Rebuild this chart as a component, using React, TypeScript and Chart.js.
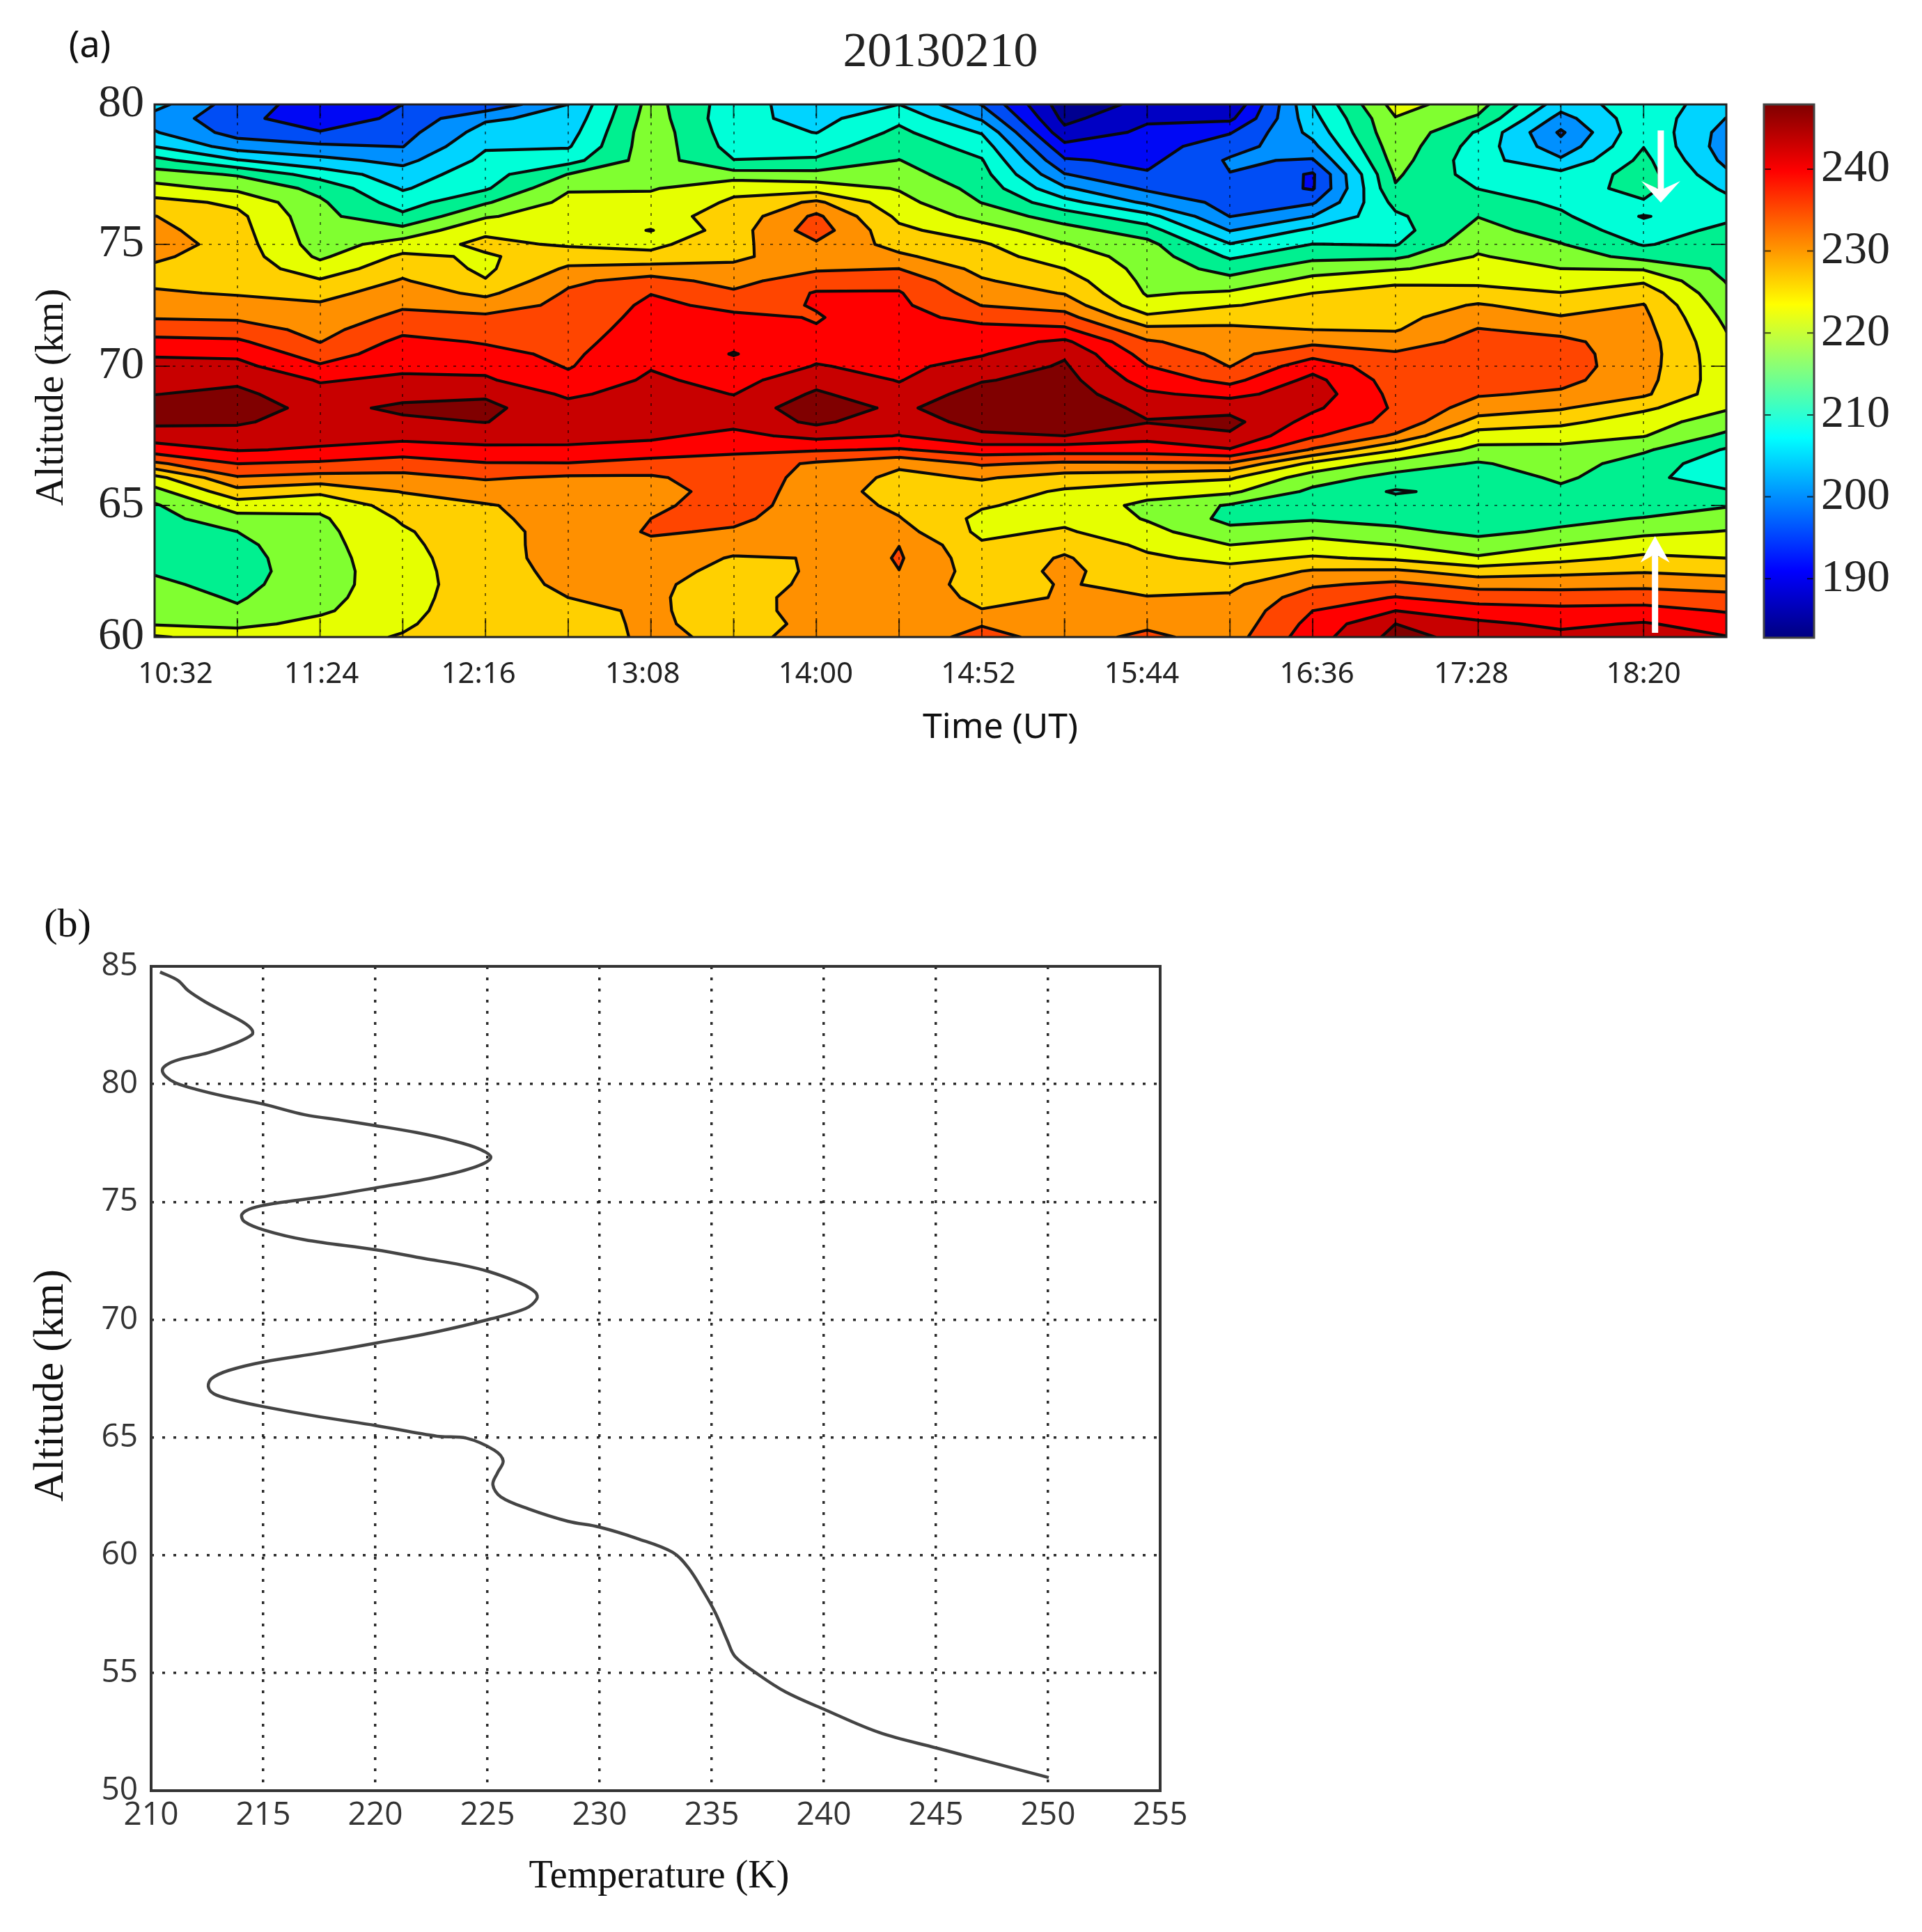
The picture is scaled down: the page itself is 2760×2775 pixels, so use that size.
import React, { useEffect, useRef } from "react";
import { Chart, registerables, LinearScale } from "chart.js";

// ---------- Panel (a) data ----------
const times = [632, 658, 684, 710, 736, 762, 788, 814, 840, 866, 892, 918, 944, 970, 996, 1022, 1048, 1074, 1100, 1126];
const timeLabels = ["10:32", "", "11:24", "", "12:16", "", "13:08", "", "14:00", "", "14:52", "", "15:44", "", "16:36", "", "17:28", "", "18:20", ""];
const altitudes = [80, 79.5, 79, 78.5, 78, 77.5, 77, 76.5, 76, 75.5, 75, 74.5, 74, 73.5, 73, 72.5, 72, 71.5, 71, 70.5, 70, 69.5, 69, 68.5, 68, 67.5, 67, 66.5, 66, 65.5, 65, 64.5, 64, 63.5, 63, 62.5, 62, 61.5, 61, 60.5, 60];
const levels = [186.9, 190.9, 195, 199.1, 203.1, 207.2, 211.3, 215.4, 219.4, 223.5, 227.6, 231.6, 235.7, 239.8, 243.8];
const bandColors = ["#000090", "#0000c4", "#0008f5", "#004df5", "#0090ff", "#00d4ff", "#00ffd8", "#00f090", "#80ff30", "#e6ff00", "#ffd000", "#ff9000", "#ff4500", "#ff0000", "#c80000", "#800000"];

const T1032 = [204.5,201.5,203.4,207.1,212.6,217.2,220.8,224.9,227.7,228.8, 230,228.2,227,226.9,228,229.6,231.3,234,236.8,239.4, 241,242.3,243.7,245.7,244.6,241.9,237.7,230.8,222.2,218, 214.9,213.9,212.7,213,214.1,215.1,216.1,217.1,218,219,224];
const T1058 = [197,196.5,197.5,201.3,207.5,215,218.5,222.7,224.5,225, 225.5,225.8,226,226.5,227.3,228.9,231,233.6,236.4,239, 241,243,244.8,245.8,244.3,242.2,240.1,235.7,231.2,226.2, 221.4,218,215.4,214.5,214,213.8,214.2,215,215.9,218.4,221.5];
const T1124 = [193,192,195.3,199.9,204.3,209.5,214.3,216,216.5,217, 217.5,218.7,221.2,223.9,226.3,228.1,229.3,230.3,231.5,233.7, 236.2,239.5,241,242.5,242,241.3,239.3,235,230.2,224.3, 220.5,218.8,218.3,218,217.8,217.7,217.9,218.2,218.8,220.5,222];
const T1150 = [195,196.2,197.6,199,201.9,205,206.8,209.4,212.2,216.7, 221.2,224.3,226.1,228,229.6,231.1,232.6,234.7,236.8,238, 239,240.5,242.5,244.6,243,241,237.9,233.6,230.5,227.8, 225.3,224,223,222.5,222,221.7,221.5,221.8,222.2,222.9,223.8];
const T1216 = [196,202.5,204.8,206.8,208.2,209.6,210.8,215,219,222.7, 224.5,223,222.8,223.7,226.7,229.6,232.4,233.7,235.4,236.8, 238.8,240.3,243.3,244.7,243.9,241.3,239,235.4,232,229.5, 227.3,226.9,226.5,226.3,226.2,226.1,226.1,226.2,226.3,226.3,226.4];
const T1242 = [203.1,204.3,205.5,206.8,209.8,215.5,219,220.5,221.5,222.5, 223,225.7,228.2,230.9,232.1,232.6,233.2,233.7,234.3,234.9, 235.4,236.7,239.1,241.2,241.5,241.2,239,235.5,231,230.5, 229.2,229,228.8,229,229,228.6,228.2,227.6,226.9,226.7,226.5];
const T1308 = [217,217.5,218,218,217.5,217.5,219,221,222,219.2, 222.5,224.6,229.4,233,235.6,236.5,237,237.6,238.2,238.9, 239.5,240.5,241.5,242,241.5,240.5,238.3,234,231.1,230, 231,231.6,232,230.8,229.8,229,228.3,228,228,228,228];
const T1334 = [209,208.5,209,209.8,211.4,217,222.7,224,225,225.8, 226.5,227,228.3,230.3,232.2,234.8,236.4,236.6,236.8,235.5, 237,238.4,239.7,241.5,241,238.7,236.5,234,233.5,233.3, 233,232.3,231.2,229,227.3,226.5,226,226.3,226.4,226.7,227.2];
const T1400 = [205,205.8,207.1,209.6,211.8,216.7,221.7,228.4,232.4,233.6, 231,229.4,231,234,236,235.85,235.55,235.85,238,239, 240,242.4,244.4,246,244.6,241,236.1,231,230.5,230.2, 230,229.7,229.2,228.4,227.7,227.9,228.3,228.8,228.7,228.1,228.05];
const T1426 = [207.2,210.4,212.2,213.9,215.5,216.9,219.1,220.8,222.6,224.4, 226.2,228.3,231.6,234.4,236,236.5,237,237.4,237.9,238.4, 238.9,239.6,241,243,241.2,239.7,235.3,228.4,226.5,225.5, 226.8,227.8,229.2,231.55,232,231.55,229.6,229.3,229.2,229.2,229.2];
const T1452 = [198.9,202.5,206.9,209.6,211.6,212.8,214,215.3,218,221.2, 224,225.1,226.5,228,229.6,231.5,234.4,236.9,238.1,239.5, 241.3,243.5,245.6,246.5,245.5,243.1,237.8,232.1,228,225.8, 223.9,222.5,222.6,224,225,225.7,226.3,227,227.7,231.3,233];
const T1518 = [184.5,185.8,188.1,192,195.5,199.3,203.7,208.7,213.4,217, 219.6,221.5,223.5,225.5,227.4,230,233.1,236.5,240.6,243.3, 244.3,245.2,246,246.4,245.6,243.8,237.5,230.8,226,222.9, 222,222.5,224,226.5,228,228.3,227.8,227.75,228,229,230];
const T1544 = [188,190.3,191.8,193.1,194,195.4,198.4,202.3,208.7,213.2, 216.7,217.6,218,218.4,219,220.6,224.5,228.7,232.1,234, 235.8,238,240.4,242.9,244,241.3,237.5,231,225.3,221, 218.4,219.1,220.7,222.6,224.2,225.6,226.8,227.7,229,230.8,232.5];
const T1610 = [187,190,194.7,197.5,199.6,199,198,197.7,199,202.9, 207.4,210.7,213.8,216.7,220,223.3,226.5,228.2,229.4,230.5, 231.5,234.5,238.6,242.5,245,243.2,239.5,231,224,220.2, 215,214.3,216.5,219.4,222.3,225,226.9,228,228.5,229,229.8];
const T1636 = [207.2,205.9,204.3,202,198.7,194.5,194.6,198.6,203.1,208.1, 211.4,214.3,217.6,220.7,223.5,224.7,226.2,227.6,230.7,234.3, 238.2,241,242,240.5,238.3,236.3,231.1,222.5,217.3,214.5, 213.5,215,218,221,224,228,231,233.7,235.7,237,238];
const T1702 = [221,219.2,218.8,218,217.2,216,215,212.5,210.6,209.6, 211,214.6,219,223.2,224.1,225.3,226.4,227.3,229.6,232.1, 233,233.8,234.5,235.2,234.7,231,223.8,217.6,214,210.9, 213.2,214.3,216.2,219.4,222.8,228.3,232.5,235.9,239.8,243.8,245];
const T1728 = [217,214.8,210.8,209.5,208.8,209.5,211.2,213.3,215.3,216.8, 218.4,219.7,221.2,222.6,225,228,230,231.8,233,233.7, 233.5,233,232,229.7,226,221.6,218.2,215,213,212.5, 212.5,213.2,214.6,216.8,220,225.6,230.2,234,237.5,240.7,242.5];
const T1754 = [205,201.5,198.5,200.5,203.8,208.4,209.8,210.5,212,213.6, 215.6,217.5,219.4,221.6,223.6,225.7,227.9,230.5,232.5,233, 233.3,232.7,231,228,224.6,220.7,218.5,217.3,216.1,214.5, 213.5,214.4,216,219.4,222.3,226.5,230.2,233.6,236.8,238.9,241];
const T1820 = [209.5,210,210.5,211.2,212.4,213,212.4,211,206.9,209, 211,214,219,223,225.8,227.8,228.5,229,229.5,229.6, 229.4,229,228.3,224.3,221,219.6,216,213.5,212.8,212.7, 213.5,215.6,218.5,221.4,224.3,227.3,230.5,234,237,240.2,241.5];
const T1846 = [205,203,201.5,201,202,204,206.5,208.4,210.3,212.4, 213.2,213.9,214.5,215.2,216.2,217.2,218.4,219.3,220,220.5, 220.8,221,220.9,219.8,217.5,214.5,210.9,208.9,208,212, 215.1,217.4,219.6,221.6,223.5,226.4,229.7,233,235.4,237.8,240];
const temperatureColumns = [T1032, T1058, T1124, T1150, T1216, T1242, T1308, T1334, T1400, T1426, T1452, T1518, T1544, T1610, T1636, T1702, T1728, T1754, T1820, T1846];

const colorbarRange = [182.8, 247.9];
const colorbarTicks = [190, 200, 210, 220, 230, 240];
const downArrow = { time: 1105.4, from: 79.07, to: 76.49 };
const upArrow = { time: 1103.6, from: 60.16, to: 63.84 };

// ---------- Panel (b) data ----------
const profileTemp = [210.4,211.2,211.65,212.4,213.3,214.15,214.5,214.5,213.8,212.55,211.2,210.66,210.5,210.66,211.1,212,213.3,215,216.85,218.45,220,221.85,223.45,224.6,225.15,224.5,222.75,220.05,217.55,215.6,214.5,214.05,214.15,215.05,216.85,220.05,222.2,223.8,225.1,226.5,227.15,227.2,226.7,225.1,222.75,220.05,217.55,215.05,213.45,212.7,212.55,212.8,213.6,215.05,217.55,220.05,222.75,224.06,225.3,225.7,225.45,225.24,225.6,226.84,228.58,230,231.7,233.26,233.96,234.65,235.17,235.7,236.04,237.08,238.3,240.07,242.47,245.03,247.67,250.03];
const profileAlt = [84.76,84.4,83.97,83.5,83.04,82.6,82.3,82.1,81.75,81.33,81.03,80.8,80.58,80.32,80.05,79.78,79.48,79.15,78.7,78.47,78.24,77.94,77.6,77.26,76.89,76.5,76.06,75.6,75.2,74.95,74.73,74.47,74.17,73.8,73.39,72.96,72.59,72.33,72.03,71.53,71.15,70.88,70.47,70.02,69.49,69.01,68.59,68.21,67.84,67.5,67.16,66.85,66.6,66.3,65.87,65.5,65.05,64.97,64.46,64,63.5,62.99,62.47,61.96,61.44,61.19,60.7,60.12,59.46,58.43,57.54,56.37,55.7,54.93,54.19,53.43,52.47,51.81,51.15,50.56];

// ---------- Axis behaviour ----------
const TWEAKS: any = {
  xA: { titleShift: [86, 0], labelShifts: [30, 0, 2, 0, -10, 0, -12, 0, -1, 0, -5, 0, -8, 0, 6, 0, -10, 0, 0, 0] },
  yA: { titleShift: [0, 38], warp: [[60, 0], [65, 0.247], [70, 0.5085], [75, 0.7373], [80, 1]] },
  xB: { titleShift: [5, 0] },
  yB: { titleShift: [0, 10] },
};

class TunedScale extends (LinearScale as any) {
  static id = "tuned";
  static defaults = (LinearScale as any).defaults;
  getPixelForValue(v: number) {
    const w = TWEAKS[this.id]?.warp;
    if (!w) return super.getPixelForValue(v);
    for (let i = 0; i < w.length - 1; i++) {
      if (v <= w[i + 1][0] || i === w.length - 2) {
        const t = (v - w[i][0]) / (w[i + 1][0] - w[i][0]);
        return this.getPixelForDecimal(w[i][1] + t * (w[i + 1][1] - w[i][1]));
      }
    }
    return super.getPixelForValue(v);
  }
  _computeLabelItems(area: any) {
    const items = super._computeLabelItems(area);
    const s = TWEAKS[this.id]?.labelShifts;
    if (s) items.forEach((it: any, i: number) => { it.options.translation[0] += s[i] || 0; });
    return items;
  }
  drawTitle(area: any) {
    const [dx, dy] = TWEAKS[this.id]?.titleShift || [0, 0];
    const ctx = this.ctx;
    ctx.save();
    ctx.translate(dx, dy);
    super.drawTitle(area);
    ctx.restore();
  }
}

Chart.register(...registerables, TunedScale as any);

// ---------- Plugins ----------
const contourPlugin = {
  id: "contourBands",
  beforeDatasetsDraw(chart: any) {
    const { ctx, chartArea: a, scales } = chart;
    const pts = chart.data.datasets[0].data;
    const nCol = times.length, nRow = altitudes.length;
    const px = (i: number, j: number) => {
      const p = pts[i * nRow + j];
      return { x: scales.xA.getPixelForValue(p.x), y: scales.yA.getPixelForValue(p.y), v: p.v };
    };
    ctx.save();
    ctx.beginPath();
    ctx.rect(a.left, a.top, a.right - a.left, a.bottom - a.top);
    ctx.clip();
    ctx.fillStyle = bandColors[0];
    ctx.fillRect(a.left, a.top, a.right - a.left, a.bottom - a.top);
    const lines = new Path2D();
    const addPoly = (poly: any[]) => {
      poly.forEach((o, w) => (w ? ctx.lineTo(o.x, o.y) : ctx.moveTo(o.x, o.y)));
      ctx.closePath();
    };
    const addLine = (m: any, n: any) => { lines.moveTo(m.x, m.y); lines.lineTo(n.x, n.y); };
    levels.forEach((L, k) => {
      ctx.beginPath();
      for (let i = 0; i < nCol - 1; i++) {
        for (let j = 0; j < nRow - 1; j++) {
          const c = [px(i, j), px(i + 1, j), px(i + 1, j + 1), px(i, j + 1)];
          const poly: any[] = [];
          const cross: any[] = [];
          for (let q = 0; q < 4; q++) {
            const p = c[q], n = c[(q + 1) % 4];
            if (p.v >= L) poly.push(p);
            if ((p.v >= L) !== (n.v >= L)) {
              const t = (L - p.v) / (n.v - p.v);
              const m = { x: p.x + t * (n.x - p.x), y: p.y + t * (n.y - p.y) };
              poly.push(m);
              cross.push(m);
            }
          }
          if (cross.length === 4) {
            const center = (c[0].v + c[1].v + c[2].v + c[3].v) / 4;
            const firstHigh = c[0].v >= L;
            if (center >= L) {
              addPoly(poly);
              if (firstHigh) { addLine(cross[0], cross[1]); addLine(cross[2], cross[3]); }
              else { addLine(cross[1], cross[2]); addLine(cross[3], cross[0]); }
            } else if (firstHigh) {
              addPoly([c[0], cross[0], cross[3]]);
              addPoly([cross[1], c[2], cross[2]]);
              addLine(cross[3], cross[0]);
              addLine(cross[1], cross[2]);
            } else {
              addPoly([cross[0], c[1], cross[1]]);
              addPoly([cross[2], c[3], cross[3]]);
              addLine(cross[0], cross[1]);
              addLine(cross[2], cross[3]);
            }
          } else {
            if (poly.length > 2) addPoly(poly);
            if (cross.length === 2) addLine(cross[0], cross[1]);
          }
        }
      }
      ctx.fillStyle = bandColors[k + 1];
      ctx.fill();
    });
    ctx.strokeStyle = "#0a0a0a";
    ctx.lineWidth = 4.2;
    ctx.lineJoin = "round";
    ctx.lineCap = "round";
    ctx.stroke(lines);
    ctx.restore();
  },
};

const framePlugin = {
  id: "frame",
  afterDraw(chart: any, _args: any, o: any) {
    const { ctx, chartArea: a, scales } = chart;
    ctx.save();
    ctx.strokeStyle = o.tickColor || o.color;
    ctx.lineWidth = 2;
    const xs = o.xScale && scales[o.xScale];
    const ys = o.yScale && scales[o.yScale];
    if (xs && o.bottomTick) {
      xs.ticks.forEach((t: any) => {
        const x = xs.getPixelForValue(t.value);
        ctx.beginPath(); ctx.moveTo(x, a.bottom); ctx.lineTo(x, a.bottom - o.bottomTick);
        ctx.moveTo(x, a.top); ctx.lineTo(x, a.top + o.topTick);
        ctx.stroke();
      });
    }
    if (ys && o.sideTick) {
      ys.ticks.forEach((t: any) => {
        const y = ys.getPixelForValue(t.value);
        ctx.beginPath(); ctx.moveTo(a.left, y); ctx.lineTo(a.left + o.sideTick, y);
        ctx.moveTo(a.right, y); ctx.lineTo(a.right - o.sideTick, y);
        ctx.stroke();
      });
    }
    ctx.strokeStyle = o.color;
    ctx.lineWidth = o.width;
    ctx.strokeRect(a.left, a.top, a.right - a.left, a.bottom - a.top);
    if (o.panel) {
      ctx.fillStyle = "#111";
      ctx.font = o.panel.font;
      ctx.textAlign = "center";
      ctx.textBaseline = "middle";
      ctx.fillText(o.panel.text, o.panel.x, o.panel.y);
    }
    ctx.restore();
  },
};

const arrowPlugin = {
  id: "whiteArrows",
  afterDraw(chart: any) {
    const { ctx, scales } = chart;
    const draw = (arrow: any, halfHead: number, headLen: number, notch: number) => {
      const x = scales.xA.getPixelForValue(arrow.time);
      const y0 = scales.yA.getPixelForValue(arrow.from);
      const y1 = scales.yA.getPixelForValue(arrow.to);
      const dir = y1 > y0 ? 1 : -1;
      ctx.save();
      ctx.fillStyle = "#fff";
      ctx.fillRect(x - 4.5, Math.min(y0, y1 - dir * notch), 9, Math.abs(y1 - dir * notch - y0));
      ctx.beginPath();
      ctx.moveTo(x, y1);
      ctx.lineTo(x - halfHead, y1 - dir * headLen);
      ctx.lineTo(x, y1 - dir * notch);
      ctx.lineTo(x + halfHead, y1 - dir * headLen);
      ctx.closePath();
      ctx.fill();
      ctx.restore();
    };
    draw(downArrow, 28, 31, 18);
    draw(upArrow, 21, 38, 26);
  },
};

function jet(v: number) {
  const f = (u: number) => Math.round(255 * Math.max(0, Math.min(1, u)));
  return `rgb(${f(Math.min(4 * v - 1.5, 4.5 - 4 * v))},${f(Math.min(4 * v - 0.5, 3.5 - 4 * v))},${f(Math.min(4 * v + 0.5, 2.5 - 4 * v))})`;
}

// ---------- Component ----------
const serif = "'Liberation Serif'";
const TICK_A = { size: 66, family: serif };

export default function App() {
  const refA = useRef<HTMLCanvasElement>(null);
  const refB = useRef<HTMLCanvasElement>(null);
  const refC = useRef<HTMLCanvasElement>(null);

  useEffect(() => {
    const grid = times.flatMap((t, i) => altitudes.map((h, j) => ({ x: t, y: h, v: temperatureColumns[i][j] })));
    const a = new Chart(refA.current as any, {
      type: "scatter",
      data: { datasets: [{ label: "Temperature (K)", data: grid as any, xAxisID: "xA", yAxisID: "yA", pointRadius: 0, showLine: false }] },
      plugins: [contourPlugin, framePlugin, arrowPlugin],
      options: {
        responsive: false, animation: false,
        layout: { padding: { left: 41, right: 29, top: 35, bottom: 24 } },
        plugins: {
          legend: { display: false }, tooltip: { enabled: false },
          title: { display: true, text: "20130210", fullSize: false, color: "#222", font: { size: 70, family: serif, weight: "normal" }, padding: { top: 0, bottom: 31 } },
          frame: { color: "#222", width: 3, xScale: "xA", yScale: "yA", bottomTick: 27, topTick: 20, sideTick: 22, tickColor: "rgba(0,0,0,0.7)", panel: { text: "(a)", font: "52px 'Noto Sans'", x: 129, y: 67 } },
        } as any,
        scales: {
          xA: {
            type: "tuned" as any, position: "bottom", min: 632, max: 1126,
            afterBuildTicks: (s: any) => { s.ticks = times.map((v) => ({ value: v })); },
            afterFit: (s: any) => { s.height = 161; },
            grid: { color: "rgba(0,0,0,0.55)", lineWidth: 2, z: 1, drawTicks: false },
            border: { display: false, dash: [4, 9] },
            ticks: { autoSkip: false, maxRotation: 0, padding: 29, color: "#222", font: { size: 42, family: "'Noto Sans'" }, callback: (_v: any, i: number) => timeLabels[i] },
            title: { display: true, text: "Time (UT)", color: "#111", font: { size: 50, family: "'Noto Sans'" }, padding: { top: 0, bottom: 0 } },
          },
          yA: {
            type: "tuned" as any, position: "left", min: 60, max: 80,
            afterFit: (s: any) => { s.width = 181; },
            grid: { color: "rgba(0,0,0,0.55)", lineWidth: 2, z: 1, drawTicks: false },
            border: { display: false, dash: [4, 9] },
            ticks: { stepSize: 5, padding: 15, color: "#222", font: TICK_A },
            title: { display: true, text: "Altitude (km)", color: "#111", font: { size: 57, family: serif }, padding: { top: 0, bottom: 0 } },
          },
        } as any,
      },
    } as any);

    const c = new Chart(refC.current as any, {
      type: "bar",
      data: {
        labels: ["T"],
        datasets: [{
          data: [colorbarRange as any],
          barPercentage: 1, categoryPercentage: 1,
          backgroundColor: (ctx: any) => {
            const ca = ctx.chart.chartArea;
            if (!ca) return "#888";
            const g = ctx.chart.ctx.createLinearGradient(0, ca.bottom, 0, ca.top);
            for (let i = 0; i <= 64; i++) g.addColorStop(i / 64, jet(i / 64));
            return g;
          },
        }],
      },
      plugins: [framePlugin],
      options: {
        responsive: false, animation: false,
        layout: { padding: { left: 33, right: 0, top: 150, bottom: 84 } },
        plugins: {
          legend: { display: false }, tooltip: { enabled: false },
          frame: { color: "#444", width: 3, yScale: "y", sideTick: 10, tickColor: "rgba(0,0,0,0.7)" },
        } as any,
        scales: {
          x: { display: false },
          y: {
            type: "linear", position: "right", min: colorbarRange[0], max: colorbarRange[1],
            afterBuildTicks: (s: any) => { s.ticks = colorbarTicks.map((v) => ({ value: v })); },
            afterFit: (s: any) => { s.width = 155; },
            grid: { display: false, drawTicks: false },
            border: { display: false },
            ticks: { padding: 10, color: "#222", font: TICK_A },
          },
        } as any,
      },
    } as any);

    const b = new Chart(refB.current as any, {
      type: "scatter",
      data: {
        datasets: [{
          label: "Temperature profile",
          data: profileTemp.map((t, i) => ({ x: t, y: profileAlt[i] })),
          xAxisID: "xB", yAxisID: "yB", showLine: true, pointRadius: 0, borderColor: "#444", borderWidth: 4.5, tension: 0.35,
        }],
      },
      plugins: [framePlugin],
      options: {
        responsive: false, animation: false,
        layout: { padding: { left: 37, right: 94, top: 118, bottom: 45 } },
        plugins: {
          legend: { display: false }, tooltip: { enabled: false },
          frame: { color: "#333", width: 4, panel: { text: "(b)", font: `58px ${serif}`, x: 97, y: 60 } },
        } as any,
        scales: {
          xB: {
            type: "tuned" as any, position: "bottom", min: 210, max: 255,
            afterFit: (s: any) => { s.height = 158; },
            grid: { color: "rgba(20,20,20,0.9)", lineWidth: 3.5, drawTicks: false },
            border: { display: false, dash: [4, 12] },
            ticks: { stepSize: 5, padding: 8, autoSkip: false, maxRotation: 0, color: "#333", font: { size: 46, family: "'Open Sans'" } },
            title: { display: true, text: "Temperature (K)", color: "#111", font: { size: 56, family: serif }, padding: { top: 0, bottom: 0 } },
          },
          yB: {
            type: "tuned" as any, position: "left", min: 50, max: 85,
            afterFit: (s: any) => { s.width = 180; },
            grid: { color: "rgba(20,20,20,0.9)", lineWidth: 3.5, drawTicks: false },
            border: { display: false, dash: [4, 12] },
            ticks: { stepSize: 5, padding: 19, color: "#333", font: { size: 46, family: "'Open Sans'" } },
            title: { display: true, text: "Altitude (km)", color: "#111", font: { size: 61, family: serif }, padding: { top: 0, bottom: 0 } },
          },
        } as any,
      },
    } as any);

    return () => { a.destroy(); b.destroy(); c.destroy(); };
  }, []);

  const abs = (left: number, top: number): React.CSSProperties => ({ position: "absolute", left, top, display: "block" });
  return (
    <div style={{ position: "absolute", left: 0, top: 0, width: 2760, height: 2775, background: "#fff", overflow: "hidden" }}>
      <canvas ref={refA} width={2508} height={1100} style={abs(0, 0)} />
      <canvas ref={refC} width={260} height={1000} style={abs(2500, 0)} />
      <canvas ref={refB} width={1760} height={1505} style={abs(0, 1270)} />
    </div>
  );
}
